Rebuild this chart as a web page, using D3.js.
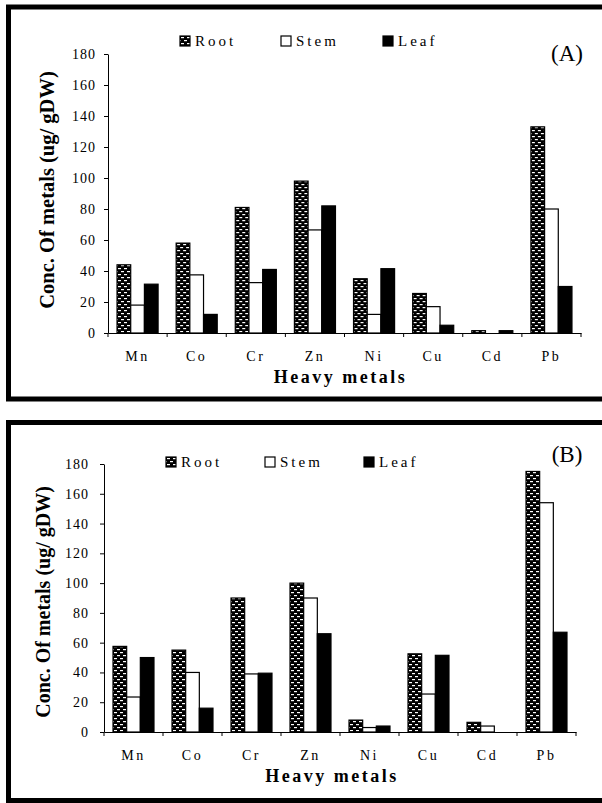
<!DOCTYPE html>
<html>
<head>
<meta charset="utf-8">
<script src="https://cdn.jsdelivr.net/npm/d3@7"></script>
<style>
  html, body { margin: 0; padding: 0; background: #fff; }
  svg { display: block; font-family: "Liberation Serif", "Times New Roman", serif; }
  .tick-label { font-size: 14px; letter-spacing: 1px; fill: #000; }
  .cat-label  { font-size: 14px; letter-spacing: 2.5px; fill: #000; }
  .axis-title { font-weight: bold; fill: #000; }
  .legend-txt { font-size: 15px; letter-spacing: 3px; fill: #000; }
</style>
</head>
<body>
<div id="chart"></div>
<script>
// ─── Daten ────────────────────────────────────────────────────────────────────

const metals = ['Mn', 'Co', 'Cr', 'Zn', 'Ni', 'Cu', 'Cd', 'Pb'];
const parts  = ['Root', 'Stem', 'Leaf'];
const yTicks = [0, 20, 40, 60, 80, 100, 120, 140, 160, 180];

// (A)
const rootA = [44, 58, 81, 98, 35, 25.5, 1.5, 133];
const stemA = [18, 37.5, 32.5, 66.5, 12, 17, 0, 80];
const leafA = [31.5, 12, 41, 82, 41.5, 5, 1.5, 30];

// (B)
const rootB = [57.5, 55, 90, 100, 8, 52.5, 6.5, 175];
const stemB = [23.5, 40, 39, 90, 3, 25.5, 4, 154];
const leafB = [50, 16, 39.5, 66, 4, 51.5, 0, 67];

// ─── SVG ──────────────────────────────────────────────────────────────────────

const svg = d3.select('#chart')
  .append('svg')
  .attr('width',  602)
  .attr('height', 803);

// Root-Muster: schwarz mit kleinen weissen Strichen (versetzt)
const pat = svg.append('defs')
  .append('pattern')
  .attr('id', 'rootPattern')
  .attr('patternUnits', 'userSpaceOnUse')
  .attr('width',  6)
  .attr('height', 6);
pat.append('rect').attr('width', 6).attr('height', 6).attr('fill', '#000');
pat.append('rect').attr('x', 1).attr('y', 1).attr('width', 3).attr('height', 1.2).attr('fill', '#fff');
pat.append('rect').attr('x', 4).attr('y', 4).attr('width', 3).attr('height', 1.2).attr('fill', '#fff');
pat.append('rect').attr('x', -2).attr('y', 4).attr('width', 3).attr('height', 1.2).attr('fill', '#fff');

const fills = { Root: 'url(#rootPattern)', Stem: '#fff', Leaf: '#000' };

// ─── Panel zeichnen ───────────────────────────────────────────────────────────

function drawPanel(cfg) {
  const rows = metals.map((m, i) => ({
    metal: m,
    values: parts.map((p, j) => ({ part: p, value: cfg.series[j][i] })),
  }));

  // Rahmen
  svg.append('rect')
    .attr('x', 8.5)
    .attr('y', cfg.frame[0])
    .attr('width', 620)
    .attr('height', cfg.frame[1] - cfg.frame[0])
    .attr('fill', 'none')
    .attr('stroke', '#000')
    .attr('stroke-width', 5);

  const g = svg.append('g');

  const y = d3.scaleLinear()
    .domain([0, 180])
    .range([cfg.y0, cfg.y180]);

  const x0 = d3.scaleBand()
    .domain(metals)
    .range([cfg.xLeft, cfg.xRight])
    .padding(0);

  const x1 = d3.scaleBand()
    .domain(parts)
    .range([0, x0.bandwidth()])
    .paddingInner(0)
    .paddingOuter(0.66);

  // Balken
  g.selectAll('g.group')
    .data(rows)
    .enter()
    .append('g')
      .attr('class', 'group')
      .attr('transform', d => `translate(${x0(d.metal)},0)`)
    .selectAll('rect')
    .data(d => d.values.filter(v => v.value > 0))
    .enter()
    .append('rect')
      .attr('x',      d => x1(d.part))
      .attr('y',      d => y(d.value))
      .attr('width',  x1.bandwidth())
      .attr('height', d => y(0) - y(d.value))
      .attr('fill',   d => fills[d.part])
      .attr('stroke', '#000')
      .attr('stroke-width', 1.2);

  // y-Achse
  const yAxis = d3.axisLeft(y)
    .tickValues(yTicks)
    .tickSize(4)
    .tickPadding(cfg.yPad)
    .tickSizeOuter(0);

  const ya = g.append('g')
    .attr('transform', `translate(${cfg.xLeft},0)`)
    .call(yAxis)
    .attr('font-family', null)
    .attr('font-size', null);
  ya.select('.domain').attr('stroke', '#000');
  ya.selectAll('.tick line').attr('stroke', '#000');
  ya.selectAll('.tick text').attr('class', 'tick-label');

  // x-Achse (Ticks an den Kategoriegrenzen)
  const xa = g.append('g')
    .attr('transform', `translate(0,${cfg.y0})`)
    .call(d3.axisBottom(x0).tickSize(0).tickPadding(18).tickSizeOuter(0))
    .attr('font-family', null)
    .attr('font-size', null);
  xa.select('.domain').attr('stroke', '#000');
  xa.selectAll('.tick text').attr('class', 'cat-label');

  const bounds = metals.map(m => x0(m)).concat([cfg.xRight]);
  g.selectAll('line.xtick')
    .data(bounds)
    .enter()
    .append('line')
      .attr('class', 'xtick')
      .attr('x1', d => d).attr('x2', d => d)
      .attr('y1', cfg.y0).attr('y2', cfg.y0 + 4)
      .attr('stroke', '#000');

  // Achsentitel
  g.append('text')
    .attr('class', 'axis-title')
    .attr('text-anchor', 'middle')
    .attr('x', (cfg.xLeft + cfg.xRight) / 2 + cfg.xTitleShift)
    .attr('y', cfg.y0 + 50)
    .style('font-size', '18px')
    .style('letter-spacing', '2.5px')
    .text('Heavy metals');

  g.append('text')
    .attr('class', 'axis-title')
    .attr('text-anchor', 'middle')
    .attr('transform', `translate(${cfg.yTitleX},${cfg.yTitleY}) rotate(-90)`)
    .style('font-size', cfg.yTitleSize + 'px')
    .text('Conc. Of metals (ug/ gDW)');

  // Legende
  const leg = g.selectAll('g.legend')
    .data(parts)
    .enter()
    .append('g')
      .attr('class', 'legend')
      .attr('transform', (d, i) => `translate(${cfg.legendX[i]},${cfg.legendY})`);
  leg.append('rect')
    .attr('width', 10).attr('height', 10)
    .attr('fill', d => fills[d])
    .attr('stroke', '#000')
    .attr('stroke-width', 1.2);
  leg.append('text')
    .attr('class', 'legend-txt')
    .attr('x', 15)
    .attr('y', 10)
    .text(d => d);

  // Panel-Kennung
  g.append('text')
    .attr('x', 567)
    .attr('y', cfg.tagY)
    .attr('text-anchor', 'middle')
    .style('font-size', '23px')
    .text(cfg.tag);
}

drawPanel({
  series: [rootA, stemA, leafA],
  frame: [7, 399],
  y0: 333, y180: 54,
  xLeft: 108, xRight: 581,
  yPad: 8,
  xTitleShift: -4,
  yTitleX: 54, yTitleY: 190, yTitleSize: 20.5,
  legendX: [180, 281, 383], legendY: 36,
  tag: '(A)', tagY: 61,
});

drawPanel({
  series: [rootB, stemB, leafB],
  frame: [422.5, 800.5],
  y0: 732, y180: 464,
  xLeft: 104, xRight: 576,
  yPad: 11,
  xTitleShift: -8,
  yTitleX: 50, yTitleY: 602, yTitleSize: 20,
  legendX: [166, 265, 364], legendY: 457,
  tag: '(B)', tagY: 462,
});
</script>
</body>
</html>
